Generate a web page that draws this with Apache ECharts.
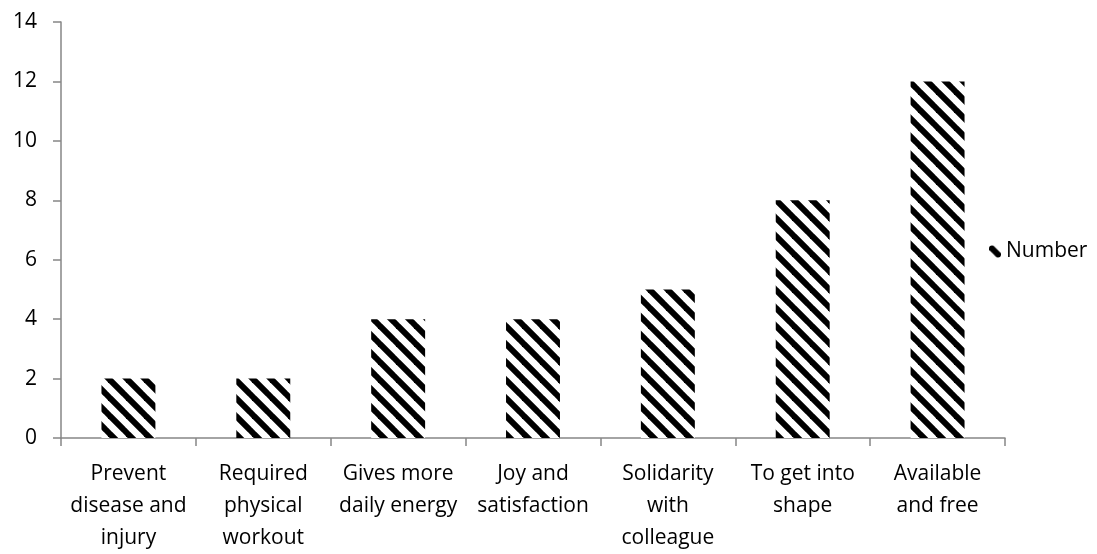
<!DOCTYPE html>
<html>
<head>
<meta charset="utf-8">
<script src="https://cdn.jsdelivr.net/npm/echarts@6/dist/echarts.min.js"></script>
<style>
  html, body { margin: 0; padding: 0; background: #fff; }
  #chart { width: 1097px; height: 554px; }
</style>
</head>
<body>
<div id="chart"></div>
<script>
// Reasons for taking part in workplace exercise
const categories = [
  'Prevent\ndisease and\ninjury',
  'Required\nphysical\nworkout',
  'Gives more\ndaily energy',
  'Joy and\nsatisfaction',
  'Solidarity\nwith\ncolleague',
  'To get into\nshape',
  'Available\nand free'
];
const seriesName = 'Number';
const values = [2, 2, 4, 4, 5, 8, 12];
const yTicks = { min: 0, max: 14, interval: 2 };

// Black-and-white diagonal hatch ("\" direction) used as the bar fill
function makeHatch(size, lineWidth) {
  const c = document.createElement('canvas');
  c.width = size; c.height = size;
  const ctx = c.getContext('2d');
  ctx.fillStyle = '#fff';
  ctx.fillRect(0, 0, size, size);
  ctx.strokeStyle = '#000';
  ctx.lineWidth = lineWidth;
  for (let k = -1; k <= 1; k++) {
    ctx.beginPath();
    ctx.moveTo(k * size - 2, -2);
    ctx.lineTo(k * size + size + 2, size + 2);
    ctx.stroke();
  }
  return c;
}
const hatch = { image: makeHatch(18, 6), repeat: 'repeat' };

const font = "'Open Sans', 'Noto Sans', sans-serif";
const chart = echarts.init(document.getElementById('chart'), null, { renderer: 'canvas' });
chart.setOption({
  animation: false,
  backgroundColor: '#fff',
  textStyle: { fontFamily: font },
  grid: { left: 61, right: 92, top: 22, bottom: 115, containLabel: false },
  legend: {
    orient: 'vertical',
    left: 984,
    top: 236,
    itemWidth: 12,
    itemHeight: 12,
    itemGap: 6,
    textStyle: { fontFamily: font, fontSize: 21, color: '#000' },
    data: [seriesName]
  },
  xAxis: {
    type: 'category',
    data: categories,
    axisLine: { lineStyle: { color: '#868686', width: 1.5 } },
    axisTick: { show: true, length: 8, alignWithLabel: false, lineStyle: { color: '#868686', width: 1.5 } },
    axisLabel: {
      interval: 0,
      margin: 20,
      fontFamily: font,
      fontSize: 21,
      lineHeight: 32,
      color: '#000',
      align: 'center'
    }
  },
  yAxis: {
    type: 'value',
    min: yTicks.min,
    max: yTicks.max,
    interval: yTicks.interval,
    splitLine: { show: false },
    axisLine: { show: true, lineStyle: { color: '#868686', width: 1.5 } },
    axisTick: { show: true, length: 8, lineStyle: { color: '#868686', width: 1.5 } },
    axisLabel: { fontFamily: font, fontSize: 21, color: '#000', margin: 24 }
  },
  series: [{
    name: seriesName,
    type: 'bar',
    data: values,
    barWidth: '40%',
    itemStyle: { color: hatch }
  }]
});
</script>
</body>
</html>
